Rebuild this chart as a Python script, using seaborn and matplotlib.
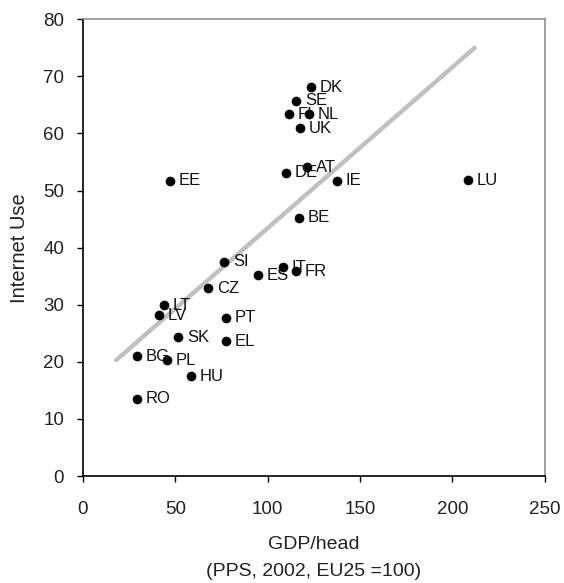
import matplotlib
matplotlib.use("Agg")
import matplotlib.pyplot as plt
import seaborn as sns
import pandas as pd

countries = ["DK", "SE", "FI", "NL", "UK", "AT", "DE", "IE", "EE", "LU", "BE",
             "SI", "IT", "FR", "ES", "CZ", "LT", "LV", "PT", "SK", "EL", "BG",
             "PL", "HU", "RO"]
gdp = [123.4, 115.3, 111.5, 122.3, 117.4, 121.2, 109.8, 137.4, 47.1, 208.3, 116.9,
       76.3, 108.2, 115.3, 94.7, 67.6, 43.8, 41.1, 77.4, 51.4, 77.4, 29.2,
       45.5, 58.4, 29.2]
internet = [68.1, 65.7, 63.4, 63.4, 60.9, 54.1, 53.1, 51.7, 51.7, 51.8, 45.2,
            37.5, 36.6, 35.9, 35.2, 32.9, 29.9, 28.2, 27.7, 24.3, 23.6, 21.0,
            20.3, 17.5, 13.5]
label_text = ["DK", "SE", "FI", "NL", "UK", "AT", "DE", "IE", "EE", "LU", "BE",
              "SI", "IT", "FR", "ES", "CZ", "LT", "LV", "PT", "SK", "EL", "BG",
              "PL", "HU", "RO"]
trend_x = [18, 212]
trend_y = [20.3, 75.0]
x_ticks = [0, 50, 100, 150, 200, 250]
y_ticks = [0, 10, 20, 30, 40, 50, 60, 70, 80]

sns.set_theme(style="white")
plt.rcParams["font.family"] = ["Liberation Sans", "DejaVu Sans"]

df = pd.DataFrame({"country": countries, "gdp": gdp, "internet": internet})
trend = pd.DataFrame({"x": trend_x, "y": trend_y})

fig = plt.figure(figsize=(5.64, 5.83), dpi=100)
ax = fig.add_axes([0.147, 0.1835, 0.819, 0.7835])

sns.lineplot(data=trend, x="x", y="y", ax=ax, color="#c0c0c0", linewidth=3.2, zorder=1)
sns.scatterplot(data=df, x="gdp", y="internet", ax=ax, color="black", s=42,
                marker="o", edgecolor="black", linewidth=0.5, zorder=3)

for name, xv, yv in zip(label_text, gdp, internet):
    ax.annotate(name, (xv, yv), xytext=(6.5, 0), textcoords="offset points",
                ha="left", va="center", fontsize=12, color="#111111", zorder=4)

ax.set_xlim(0, 250)
ax.set_ylim(0, 80)
ax.set_xticks(x_ticks)
ax.set_yticks(y_ticks)
ax.tick_params(axis="both", labelsize=13.5, length=4.5, width=1, direction="out",
               color="black", labelcolor="#222222", left=True, bottom=True)
ax.tick_params(axis="x", pad=13.5)
ax.tick_params(axis="y", pad=9)
ax.set_xlabel("GDP/head\n(PPS, 2002, EU25 =100)", fontsize=14, color="#222222",
              labelpad=13, linespacing=1.75)
ax.set_ylabel("Internet Use", fontsize=14.5, color="#222222", labelpad=10)

for side in ["left", "bottom"]:
    ax.spines[side].set_color("black")
    ax.spines[side].set_linewidth(1.2)
for side in ["top", "right"]:
    ax.spines[side].set_color("#909090")
    ax.spines[side].set_linewidth(1.2)

fig.savefig("out.png", dpi=100)
